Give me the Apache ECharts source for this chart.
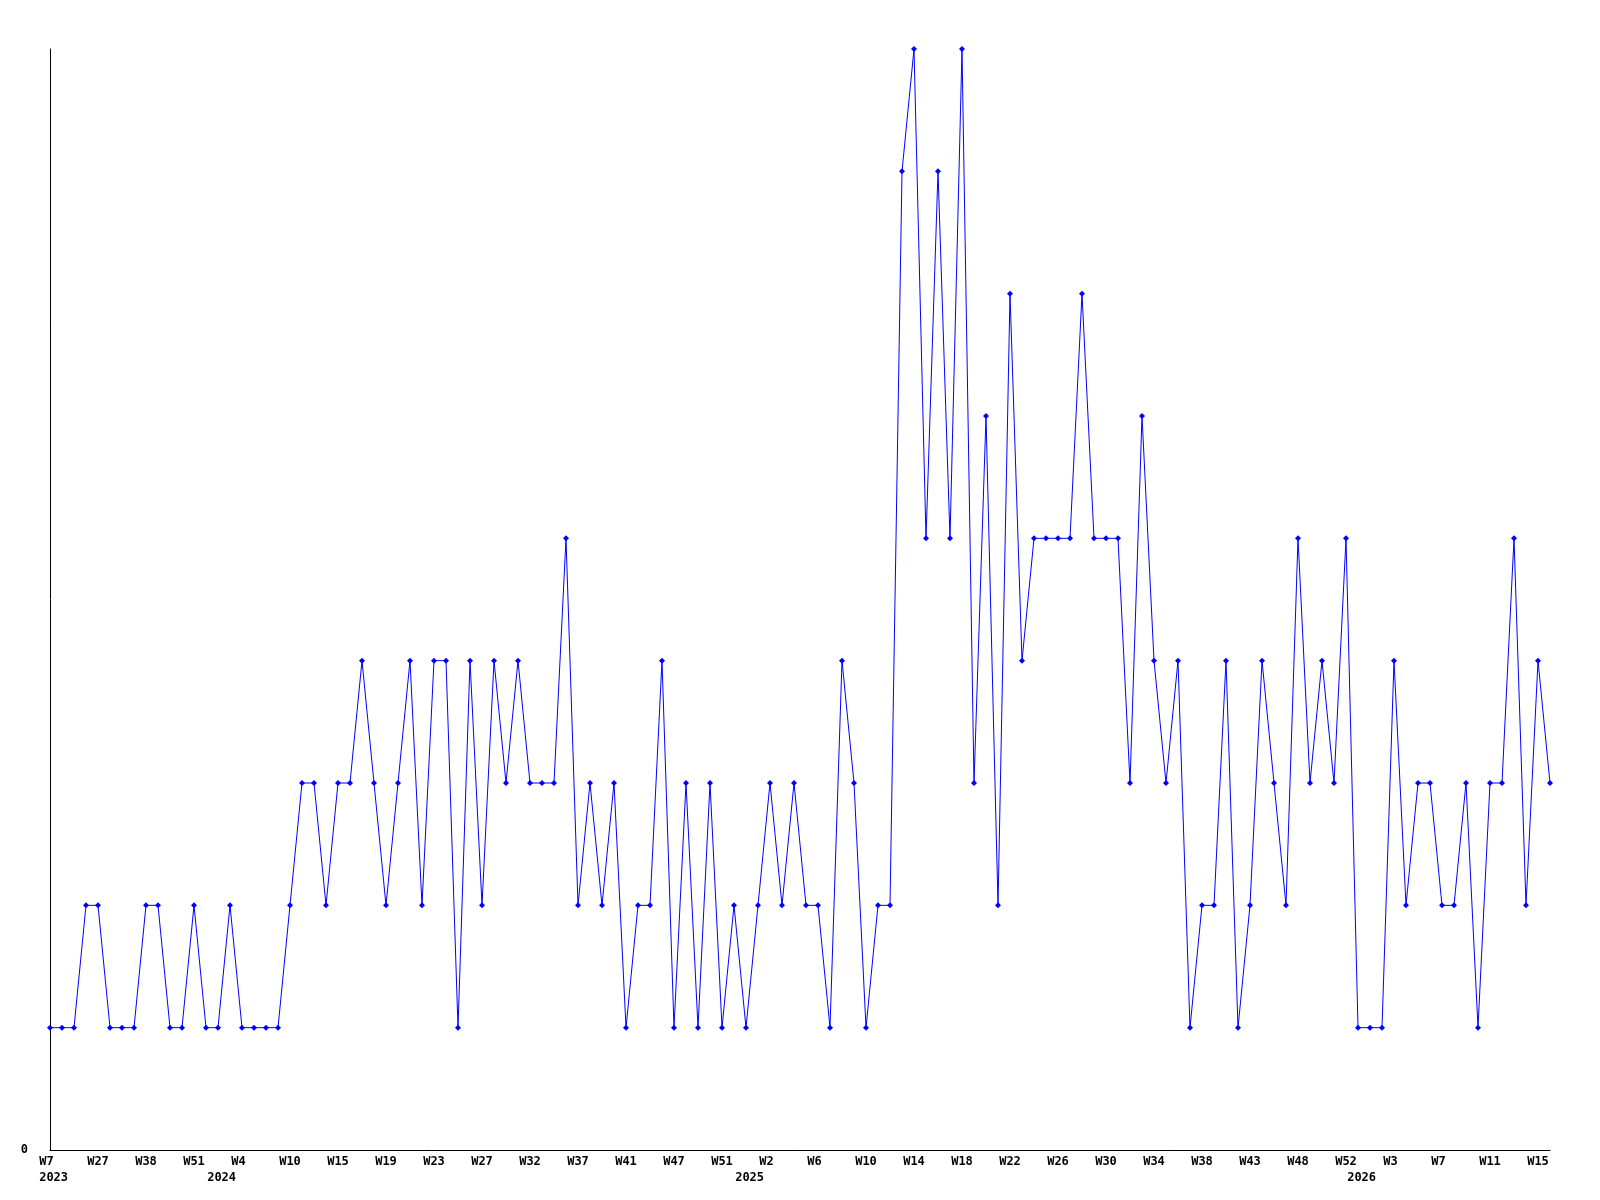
<!DOCTYPE html>
<html>
<head>
<meta charset="utf-8">
<script src="https://cdn.jsdelivr.net/npm/echarts@6/dist/echarts.min.js"></script>
<style>
  html, body { margin: 0; padding: 0; background: #fff; }
  #chart { width: 1600px; height: 1200px; }
</style>
</head>
<body>
<div id="chart"></div>
<script>
// weekly counts, one point per week that has data
var counts = [
  1, 1, 1, 2, 2, 1, 1, 1, 2, 2, 1, 1, 2, 1, 1, 2, 1, 1, 1, 1, 2,
  3, 3, 2, 3, 3, 4, 3, 2, 3, 4, 2, 4, 4, 1, 4, 2, 4, 3, 4, 3, 3, 3, 5,
  2, 3, 2, 3, 1, 2, 2, 4, 1, 3, 1, 3, 1, 2, 1, 2, 3, 2, 3, 2, 2, 1, 4, 3, 1, 2, 2,
  8, 9, 5, 8, 5, 9, 3, 6, 2, 7, 4, 5, 5, 5, 5, 7, 5, 5, 5, 3,
  6, 4, 3, 4, 1, 2, 2, 4, 1, 2, 4, 3, 2, 5, 3, 4, 3, 5, 1, 1, 1, 4, 2, 3, 3, 2, 2, 3, 1, 3, 3, 5, 2, 4, 3
]

// a week label under every 4th point
var weekLabels = ['W7', 'W27', 'W38', 'W51', 'W4', 'W10', 'W15', 'W19', 'W23', 'W27', 'W32',
  'W37', 'W41', 'W47', 'W51', 'W2', 'W6', 'W10', 'W14', 'W18', 'W22', 'W26',
  'W30', 'W34', 'W38', 'W43', 'W48', 'W52', 'W3', 'W7', 'W11', 'W15']
var labelStep = 4

// year label under the first week of each year (point index)
var yearIndex = [0, 14, 58, 109]
var yearLabels = ['2023', '2024', '2025', '2026']

var categories = counts.map(function(v, i) { return String(i) })

var font = {
  fontFamily: 'DejaVu Sans Mono',
  fontWeight: 'bold',
  fontSize: 12,
  color: '#000'
}

var chart = echarts.init(document.getElementById('chart'))
chart.setOption({
  animation: false,
  backgroundColor: '#fff',
  grid: { left: 50, right: 50, top: 49, bottom: 50 },
  xAxis: [
    {
      type: 'category',
      data: categories,
      boundaryGap: false,
      axisLine: { lineStyle: { color: '#000', width: 1 } },
      axisTick: { show: false },
      splitLine: { show: false },
      axisLabel: Object.assign({}, font, {
        interval: labelStep - 1,
        margin: 6,
        formatter: function(v, i) {
          var s = weekLabels[i / labelStep] || ''
          return s.length < 3 ? s + ' ' : s
        }
      })
    },
    {
      type: 'category',
      data: categories,
      boundaryGap: false,
      position: 'bottom',
      axisLine: { show: false },
      axisTick: { show: false },
      splitLine: { show: false },
      axisLabel: Object.assign({}, font, {
        margin: 22,
        interval: function(i) { return yearIndex.indexOf(i) >= 0 },
        formatter: function(v, i) {
          var k = yearIndex.indexOf(i)
          return k >= 0 ? ' ' + yearLabels[k] : ''
        }
      })
    }
  ],
  yAxis: {
    type: 'value',
    min: 0,
    max: 9,
    interval: 9,
    axisLine: { show: true, lineStyle: { color: '#000', width: 1 } },
    axisTick: { show: false },
    splitLine: { show: false },
    axisLabel: Object.assign({}, font, {
      margin: 22,
      formatter: function(v) { return v === 0 ? '0' : '' }
    })
  },
  series: [
    {
      type: 'line',
      data: counts,
      symbol: 'diamond',
      symbolSize: 6,
      showAllSymbol: true,
      lineStyle: { color: '#0000ff', width: 1 },
      itemStyle: { color: '#0000ff' }
    }
  ]
})
</script>
</body>
</html>
